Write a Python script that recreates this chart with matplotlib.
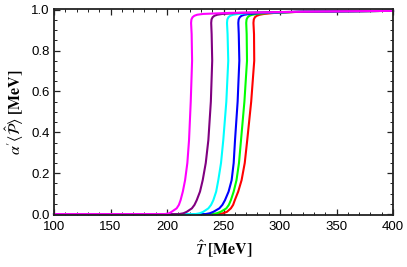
import matplotlib
matplotlib.use("Agg")
import matplotlib.pyplot as plt
from matplotlib.ticker import MultipleLocator

plt.rcParams['mathtext.fontset'] = 'stix'
plt.rcParams['font.family'] = ['Liberation Sans', 'DejaVu Sans']

# Curves: (T in MeV, alpha'<P> in MeV)
P_levels = [0, 0, 0.004, 0.011, 0.028, 0.045, 0.068, 0.11, 0.166, 0.25, 0.362, 0.55, 0.75, 0.88, 0.935, 0.952, 0.963, 0.97, 0.975, 0.979, 0.984, 0.99, 0.994]

red_T = [100, 246, 249.5, 253, 256.5, 258.5, 260, 263, 266, 268.8, 271, 274.5, 277.2, 277, 276.5, 276.8, 277.8, 279.5, 282, 286, 295, 320, 400]
green_T = [100, 240, 244, 247.5, 252.5, 254.7, 256.5, 259, 261.5, 263.7, 265.5, 268.5, 270.8, 270.5, 270.1, 270.4, 271.4, 273, 275.5, 280, 290, 320, 400]
blue_T = [100, 234, 237.8, 241, 246.3, 249, 251.3, 254.5, 257.2, 259, 260.2, 262.5, 264, 263.5, 263.1, 263.4, 264.4, 266, 268.5, 273, 285, 320, 400]
cyan_T = [100, 225, 229, 232, 236.6, 239, 241, 243.5, 245.4, 247.8, 249.8, 252.5, 254.2, 253.6, 253.1, 253.4, 254.4, 256, 258.5, 263, 275, 320, 400]
purple_T = [100, 210.5, 214.5, 217.4, 222, 224.3, 226.3, 229.2, 231.6, 234.3, 236.6, 238.8, 240, 239.5, 239.1, 239.4, 240.4, 242, 244.5, 249, 265, 320, 400]
magenta_T = [100, 198, 202, 204, 208.5, 210.5, 212, 214, 216, 218, 219.5, 221, 222.2, 221.8, 221.3, 221.6, 222.6, 224.2, 226.7, 232, 255, 320, 400]

red_P = P_levels
green_P = P_levels
blue_P = P_levels
cyan_P = P_levels
purple_P = P_levels
magenta_P = P_levels

series = [
    (red_T, red_P, '#ff0000'),
    (green_T, green_P, '#00ff00'),
    (blue_T, blue_P, '#0000ff'),
    (cyan_T, cyan_P, '#00ffff'),
    (purple_T, purple_P, '#800080'),
    (magenta_T, magenta_P, '#ff00ff'),
]

fig = plt.figure(figsize=(4.07, 2.67), dpi=100)
ax = fig.add_axes([0.1327, 0.1966, 0.8329, 0.7704])

for T, P, c in series:
    ax.plot(T, P, color=c, lw=1.5, clip_on=False, solid_joinstyle='round')

ax.set_xlim(100, 400)
ax.set_ylim(-0.002, 1.004)

ax.xaxis.set_major_locator(MultipleLocator(50))
ax.xaxis.set_minor_locator(MultipleLocator(10))
ax.yaxis.set_major_locator(MultipleLocator(0.2))
ax.yaxis.set_minor_locator(MultipleLocator(0.05))
ax.yaxis.set_major_formatter(plt.FuncFormatter(lambda v, p: f"{v:.1f}"))

ax.tick_params(which='both', direction='in', top=True, right=True, colors='#222222',
               labelcolor='black', labelsize=9.5)
ax.tick_params(which='major', length=4, width=0.9)
ax.tick_params(which='minor', length=2, width=0.7)
ax.tick_params(axis='x', pad=5)
ax.tick_params(axis='y', pad=3)
for s in ax.spines.values():
    s.set_linewidth(1.3)
    s.set_color('#222222')

ax.set_xlabel(r'$\boldsymbol{\hat{T}}\;\mathbf{[MeV]}$', fontsize=11.5, labelpad=4)
ax.set_ylabel(r"$\boldsymbol{\alpha'}\langle\hat{\mathcal{P}}\rangle\;\mathbf{[MeV]}$", fontsize=11.5, labelpad=4)

fig.savefig('out.png', dpi=100)
